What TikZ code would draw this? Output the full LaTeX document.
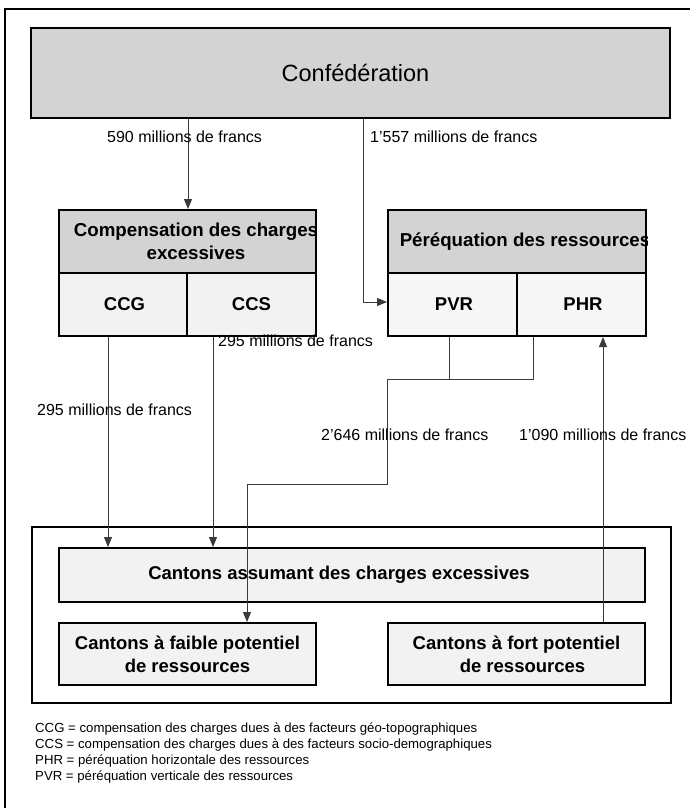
\documentclass[tikz,border=0pt]{standalone}
\usepackage{fontspec}
\setmainfont{Liberation Sans}
\usetikzlibrary{arrows.meta}
\definecolor{hdr}{HTML}{D3D3D3}
\definecolor{cell}{HTML}{F2F2F2}
\definecolor{cellb}{HTML}{F7F7F7}
\definecolor{conn}{HTML}{3A3A3A}
\tikzset{
  box/.style={draw=black, line width=2pt, rectangle, inner sep=0pt},
  hdrbox/.style={box, fill=hdr},
  cellbox/.style={box, fill=cell, font=\fontsize{18.5}{23}\selectfont\bfseries},
  cellboxb/.style={box, fill=cellb, font=\fontsize{18.5}{23}\selectfont\bfseries},
  hdrtext/.style={inner sep=0pt, align=center, font=\fontsize{18.7}{23}\selectfont\bfseries},
  connline/.style={draw=conn, line width=1pt},
  arr/.style={connline, -{Triangle[width=8pt,length=10pt]}},
  lbl/.style={anchor=west, inner sep=0pt, font=\fontsize{16}{18}\selectfont},
  legend/.style={anchor=west, inner sep=0pt, font=\fontsize{13.2}{15}\selectfont}
}
\begin{document}
\begin{tikzpicture}[x=1pt, y=-1pt]
\useasboundingbox (0,0) rectangle (690,808);
\fill[white] (0,0) rectangle (690,808);
% outer frame (cropped at right and bottom)
\draw[line width=2pt] (5,815) -- (5,9) -- (698,9);

% Confederation
\node[hdrbox, minimum width=639pt, minimum height=90pt,
      font=\fontsize{23.5}{28}\selectfont] (conf) at (350.5,73) {\hspace{10pt}\raisebox{-4pt}{Confédération}};

% Compensation block
\node[hdrbox, minimum width=257pt, minimum height=63pt] (comph) at (187.5,241.5) {};
\begin{scope}
  \clip (comph.south west) rectangle (comph.north east);
  \node[hdrtext] (compt) at (196,241.5) {Compensation des charges\\excessives};
\end{scope}
\node[cellbox, minimum width=128pt, minimum height=63pt] (ccg) at (123,304.5) {\hspace{3pt}CCG};
\node[cellbox, minimum width=129pt, minimum height=63pt] (ccs) at (251.5,304.5) {CCS};

% Perequation block
\node[hdrbox, minimum width=258pt, minimum height=63pt] (pereh) at (517,241.5) {};
\begin{scope}
  \clip (pereh.south west) rectangle (pereh.north east);
  \node[hdrtext] (peret) at (525,241.5) {Péréquation des ressources};
\end{scope}
\node[cellboxb, minimum width=129pt, minimum height=63pt] (pvr) at (452.5,304.5) {\hspace{3pt}PVR};
\node[cellboxb, minimum width=129pt, minimum height=63pt] (phr) at (581.5,304.5) {\hspace{3pt}PHR};

% Cantons
\node[box, minimum width=639pt, minimum height=176pt] (cantons) at (351.5,615) {};
\node[cellbox, minimum width=586pt, minimum height=54pt] (assum) at (352,575)
  {\hspace{-26pt}Cantons assumant des charges excessives};
\node[cellbox, minimum width=257pt, minimum height=62pt, align=center] (faible) at (187.5,654)
  {Cantons à faible potentiel\\de ressources};
\node[cellbox, minimum width=257pt, minimum height=62pt, align=center] (fort) at (516.5,654)
  {Cantons à fort potentiel\\\hspace{12pt}de ressources};

% connectors
\draw[arr] (conf.south -| ccg.east) -- (comph.north -| ccg.east);
\coordinate (b1) at (363,302);
\draw[arr] (conf.south -| b1) -- (b1) -- (pvr.west |- b1);
\draw[arr] ([xshift=-15pt]ccg.south) -- ([xshift=-15pt]ccg.south |- assum.north);
\draw[arr] ([xshift=-38.5pt]ccs.south) -- ([xshift=-38.5pt]ccs.south |- assum.north);
\coordinate (j1) at (387,379);
\coordinate (j2) at (387,484);
\draw[connline] ([xshift=-3.5pt]pvr.south) -- ([xshift=-3.5pt]pvr.south |- j1);
\draw[arr] ([xshift=-48.5pt]phr.south) |- (j1) -- (j2) -| ([xshift=59.5pt]faible.north);
\draw[arr] ([xshift=86.5pt]fort.north) -- ([xshift=86.5pt]fort.north |- phr.south);

% labels
\node[lbl] (l590) at (107,137) {590 millions de francs};
\node[lbl] (l1557) at (370,137) {1'557 millions de francs};
\node[lbl] (l295b) at (218,341) {295 millions de francs};
\node[lbl] (l295a) at (37,410) {295 millions de francs};
\node[lbl] (l2646) at (321,435) {2'646 millions de francs};
\node[lbl] (l1090) at (519,435) {1'090 millions de francs};

% legend
\node[legend] (lg1) at (35,729) {CCG = compensation des charges dues à des facteurs géo-topographiques};
\node[legend] (lg2) at (35,745) {CCS = compensation des charges dues à des facteurs socio-demographiques};
\node[legend] (lg3) at (35,761) {PHR = péréquation horizontale des ressources};
\node[legend] (lg4) at (35,777) {PVR = péréquation verticale des ressources};
\end{tikzpicture}
\end{document}
